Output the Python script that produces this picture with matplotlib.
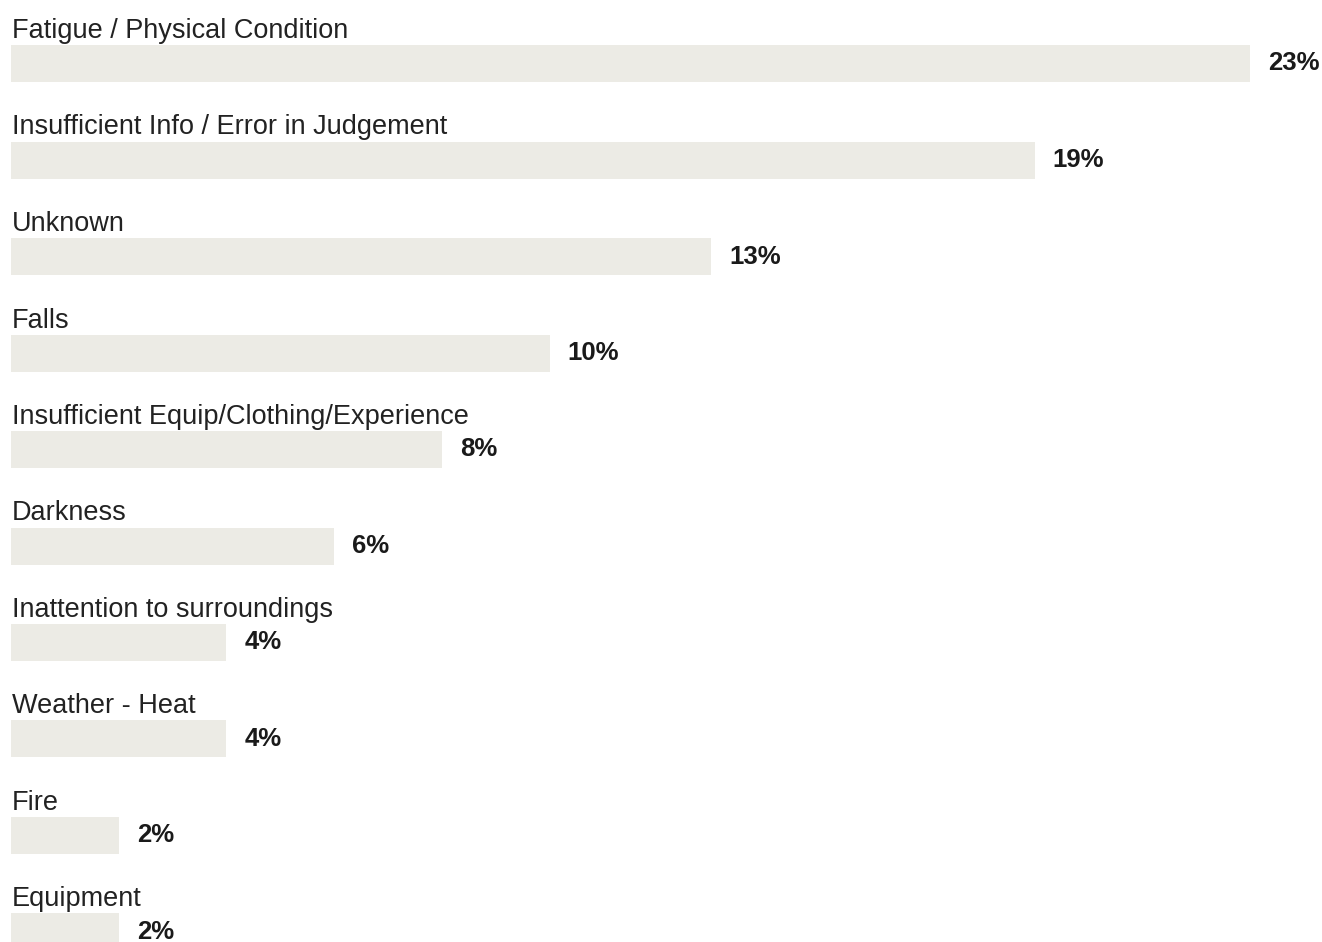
import matplotlib
matplotlib.use('Agg')
import matplotlib.pyplot as plt

categories = ['Fatigue / Physical Condition', 'Insufficient Info / Error in Judgement',
              'Unknown', 'Falls', 'Insufficient Equip/Clothing/Experience', 'Darkness',
              'Inattention to surroundings', 'Weather - Heat', 'Fire', 'Equipment']
values = [23, 19, 13, 10, 8, 6, 4, 4, 2, 2]

plt.rcParams['font.family'] = ['Liberation Sans', 'DejaVu Sans']

W, H = 1322, 942
px_per_unit = 1239 / 23.0
row = 96.5
first = 63.5

fig = plt.figure(figsize=(W / 100, H / 100), dpi=100)
ax = fig.add_axes([0, 0, 1, 1])
ax.set_xlim(-11 / px_per_unit, (W - 11) / px_per_unit)
ax.set_ylim((H - first) / row, -first / row)
ax.axis('off')

ys = list(range(len(categories)))
ax.barh(ys, values, height=37 / row, color='#ECEBE5', left=0)
for y, cat, v in zip(ys, categories, values):
    ax.text(0.02, y - 25.5 / row, cat, fontsize=19.5, color='#222222', va='baseline', ha='left')
    ax.text(v + 18 / px_per_unit, y, f'{v}%', fontsize=18.5, fontweight='bold',
            color='#1a1a1a', va='center', ha='left')

fig.savefig('out.png', dpi=100)
